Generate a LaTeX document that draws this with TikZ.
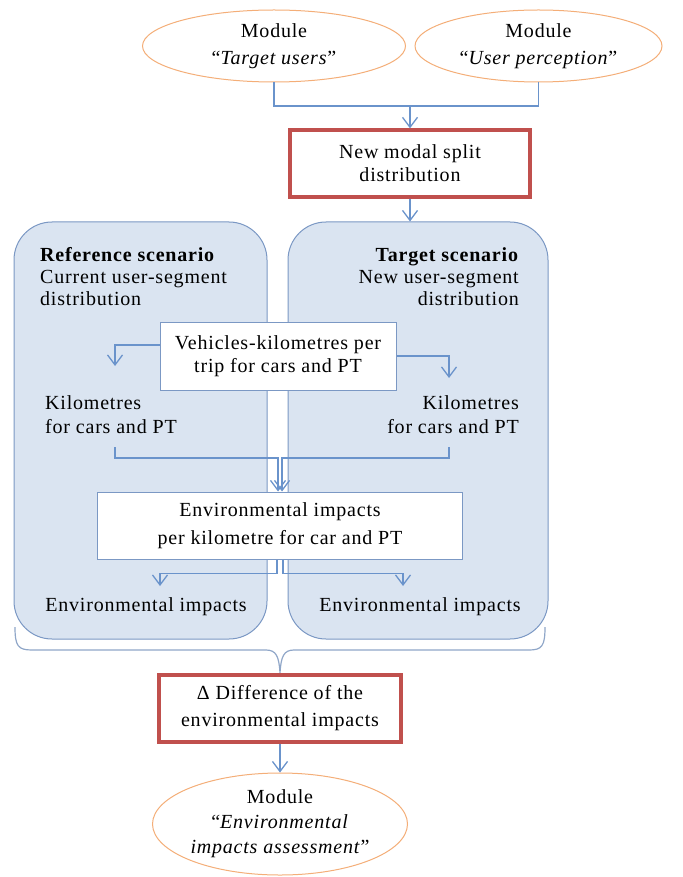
\documentclass[tikz,border=0pt]{standalone}
\usepackage{fontspec}
\setmainfont{Liberation Serif}[LetterSpace=4]
\usetikzlibrary{shapes.geometric,arrows.meta,calc}

\definecolor{lineblue}{HTML}{6A93CB}
\definecolor{boxfill}{HTML}{DAE4F1}
\definecolor{boxedge}{HTML}{7B98C4}
\definecolor{modred}{HTML}{C0504D}
\definecolor{modorange}{HTML}{F4AE78}
\definecolor{bracecol}{HTML}{8FA6C8}

\tikzset{
  base/.style={font=\fontsize{20}{24}\selectfont, inner sep=0pt},
  module/.style={base, ellipse, draw=modorange, line width=1pt, fill=white, align=center},
  redbox/.style={base, draw=modred, line width=3.2pt, fill=white, align=center},
  whitebox/.style={base, draw=boxedge, line width=1pt, fill=white, align=center},
  scenario/.style={draw=boxedge, line width=1pt, fill=boxfill, rounded corners=38pt},
  link/.style={draw=lineblue, line width=1.3pt},
  arr/.style={link, -{Straight Barb[length=10pt,width=15pt]}},
  bracestyle/.style={draw=bracecol, line width=1.2pt},
}

\begin{document}
\begin{tikzpicture}[x=1pt,y=-1pt]
\useasboundingbox (0,0) rectangle (682,877);

% input modules
\node[module, minimum width=263pt, minimum height=72pt, font=\fontsize{20}{27}\selectfont] (tu) at (274,46) {Module\\“\textit{Target users}”};
\node[module, minimum width=247pt, minimum height=72pt, font=\fontsize{20}{27}\selectfont] (up) at (538.5,46) {Module\\“\textit{User perception}”};

% modal split
\node[redbox, minimum width=240pt, minimum height=67pt, font=\fontsize{20}{23}\selectfont] (split) at (410,163.5) {New modal split\\distribution};
\coordinate (merge) at (410,106);
\draw[link] (tu.south) |- (merge);
\draw[link] (up.south) |- (merge);
\draw[arr] (merge) -- (split.north);

% scenario panels
\node[scenario, minimum width=253pt, minimum height=417pt] (ref) at (140.5,430.5) {};
\node[scenario, minimum width=260pt, minimum height=417pt] (tgt) at (418,430.5) {};
\draw[arr] (split.south) -- (split.south |- tgt.north);

\node[base, align=left, anchor=west, font=\fontsize{20}{22}\selectfont] (refTxt) at (40,277)
  {\textbf{Reference scenario}\\Current user-segment\\distribution};
\node[base, align=right, anchor=east, font=\fontsize{20}{22}\selectfont] (tgtTxt) at (519,277)
  {\textbf{Target scenario}\\New user-segment\\distribution};

% vehicle kilometres
\node[whitebox, minimum width=236pt, minimum height=68pt, font=\fontsize{20}{23}\selectfont] (veh) at (278,356)
  {Vehicles-kilometres per\\trip for cars and PT};
\coordinate (kmLin) at (115,366);
\coordinate (kmRin) at (449,378);
\draw[arr] ([yshift=11pt]veh.west) -| (kmLin);
\draw[arr] (veh.east) -| (kmRin);

\node[base, align=left, anchor=west] (kmL) at (45,415) {Kilometres\\for cars and PT};
\node[base, align=right, anchor=east] (kmR) at (519,415) {Kilometres\\for cars and PT};

% impacts per kilometre
\node[whitebox, minimum width=365pt, minimum height=67pt, font=\fontsize{20}{28}\selectfont] (env) at (280,525.5)
  {Environmental impacts\\per kilometre for car and PT};
\coordinate (kmLout) at (115,447);
\coordinate (kmRout) at (449,447);
\draw[arr] (kmLout) -- ++(0,11) -| ([xshift=-2pt]env.north);
\draw[arr] (kmRout) -- ++(0,11) -| ([xshift=2pt]env.north);

\coordinate (eiLin) at (160,586);
\coordinate (eiRin) at (403,586);
\draw[arr] ([xshift=-3pt]env.south) -- ++(0,14) -| (eiLin);
\draw[arr] ([xshift=3pt]env.south) -- ++(0,14) -| (eiRin);

\node[base] (eiL) at (146,607) {Environmental impacts};
\node[base] (eiR) at (420,607) {Environmental impacts};

% brace joining both scenarios
\coordinate (brtip) at (280,673);
\draw[bracestyle] (15,627) .. controls (15,646) and (18,650) .. (32,650) -- (266,650)
  .. controls (276,650) and (279,656) .. (brtip)
  .. controls (281,656) and (284,650) .. (294,650) -- (529,650)
  .. controls (542,650) and (545,646) .. (545,627);

% difference and assessment
\node[redbox, minimum width=242pt, minimum height=67pt, font=\fontsize{20}{27}\selectfont] (diff) at (280,708.5)
  {Δ Difference of the\\environmental impacts};
\node[module, minimum width=255pt, minimum height=102pt, font=\fontsize{20}{25}\selectfont] (eab) at (280,824)
  {Module\\“\textit{Environmental}\\\textit{impacts assessment}”};
\draw[arr] (diff.south) -- (eab.north);
\end{tikzpicture}
\end{document}
